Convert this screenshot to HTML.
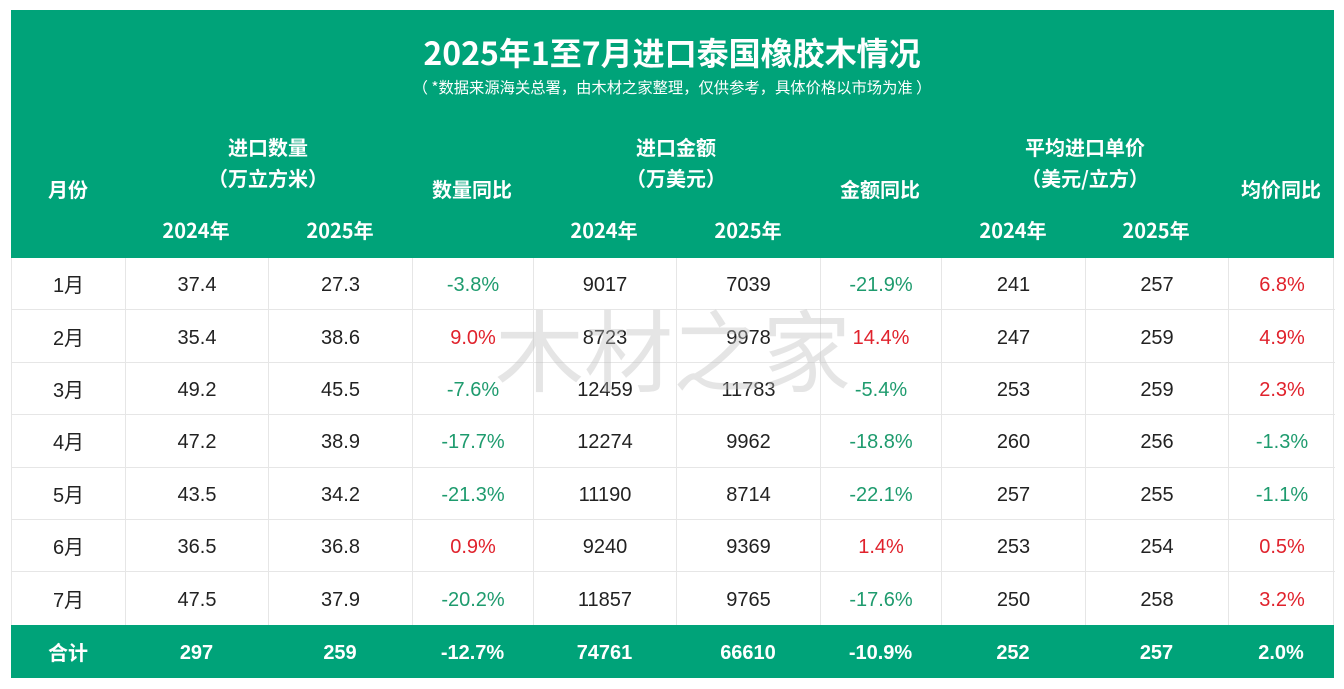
<!DOCTYPE html>
<html><head><meta charset="utf-8">
<style>
*{margin:0;padding:0;box-sizing:border-box}
body{width:1344px;height:689px;background:#fff;position:relative;overflow:hidden;font-family:"Liberation Sans","Noto Sans CJK SC",sans-serif}
.g{position:absolute;left:11px;top:10px;width:1323px;height:248px;background:#00a379}
.t{position:absolute;color:#fff;white-space:nowrap;text-align:center}
.title{left:0;width:1344px;top:30px;font-size:32px;font-weight:bold;font-family:"Noto Sans CJK SC",sans-serif;line-height:44px}
.sub{left:0;width:1344px;top:77px;font-size:15.3px;line-height:20px;font-family:"Noto Sans CJK SC",sans-serif}
.h{font-size:20px;font-weight:bold;font-family:"Noto Sans CJK SC",sans-serif;line-height:28px;transform:translateX(-50%)}
.body{position:absolute;left:11px;top:258px;width:1323px;height:367px;border-left:1px solid #e6e6e6;border-right:1px solid #e6e6e6}
.row{position:absolute;left:0;width:1323px;height:52.4px;border-bottom:1.5px solid #e6e6e6}
.c{position:absolute;top:0;height:100%;display:flex;align-items:center;justify-content:center;font-size:20px;color:#222;border-right:1.5px solid #e6e6e6;font-family:"Liberation Sans","Noto Sans CJK SC",sans-serif;padding-top:4px}
.c.m{padding-top:0}
.c:last-child{border-right:none}
.gr{color:#1e9b6e}.rd{color:#e0222c}
.tot{position:absolute;left:11px;top:625px;width:1323px;height:53px;background:#00a379}
.tot .c{color:#fff;font-weight:bold;border:none}
.wm{position:absolute;left:495px;top:292px;font-size:89px;color:rgba(190,190,190,0.4);font-family:"Noto Sans CJK SC",sans-serif;line-height:110px;white-space:nowrap}
</style></head><body>
<div class="g"></div>
<div class="t title">2025年1至7月进口泰国橡胶木情况</div>
<div class="t sub">（ *数据来源海关总署，由木材之家整理，仅供参考，具体价格以市场为准 ）</div>

<div class="t h" style="left:68px;top:175px">月份</div>
<div class="t h" style="left:268px;top:133px">进口数量</div>
<div class="t h" style="left:268px;top:164px">（万立方米）</div>
<div class="t h" style="left:472px;top:175px">数量同比</div>
<div class="t h" style="left:676px;top:133px">进口金额</div>
<div class="t h" style="left:676px;top:164px">（万美元）</div>
<div class="t h" style="left:880px;top:175px">金额同比</div>
<div class="t h" style="left:1085px;top:133px">平均进口单价</div>
<div class="t h" style="left:1085px;top:164px">（美元/立方）</div>
<div class="t h" style="left:1281px;top:175px">均价同比</div>
<div class="t h" style="left:196px;top:216px">2024年</div>
<div class="t h" style="left:340px;top:216px">2025年</div>
<div class="t h" style="left:604px;top:216px">2024年</div>
<div class="t h" style="left:748px;top:216px">2025年</div>
<div class="t h" style="left:1013px;top:216px">2024年</div>
<div class="t h" style="left:1156px;top:216px">2025年</div>

<div class="body">
<div class="row" style="top:0px"><div class="c m" style="left:0;width:114px">1月</div><div class="c" style="left:114px;width:143px">37.4</div><div class="c" style="left:257px;width:144px">27.3</div><div class="c gr" style="left:401px;width:121px">-3.8%</div><div class="c" style="left:522px;width:143px">9017</div><div class="c" style="left:665px;width:144px">7039</div><div class="c gr" style="left:809px;width:121px">-21.9%</div><div class="c" style="left:930px;width:144px">241</div><div class="c" style="left:1074px;width:143px">257</div><div class="c rd" style="left:1217px;width:106px">6.8%</div></div>
<div class="row" style="top:52.4px"><div class="c m" style="left:0;width:114px">2月</div><div class="c" style="left:114px;width:143px">35.4</div><div class="c" style="left:257px;width:144px">38.6</div><div class="c rd" style="left:401px;width:121px">9.0%</div><div class="c" style="left:522px;width:143px">8723</div><div class="c" style="left:665px;width:144px">9978</div><div class="c rd" style="left:809px;width:121px">14.4%</div><div class="c" style="left:930px;width:144px">247</div><div class="c" style="left:1074px;width:143px">259</div><div class="c rd" style="left:1217px;width:106px">4.9%</div></div>
<div class="row" style="top:104.8px"><div class="c m" style="left:0;width:114px">3月</div><div class="c" style="left:114px;width:143px">49.2</div><div class="c" style="left:257px;width:144px">45.5</div><div class="c gr" style="left:401px;width:121px">-7.6%</div><div class="c" style="left:522px;width:143px">12459</div><div class="c" style="left:665px;width:144px">11783</div><div class="c gr" style="left:809px;width:121px">-5.4%</div><div class="c" style="left:930px;width:144px">253</div><div class="c" style="left:1074px;width:143px">259</div><div class="c rd" style="left:1217px;width:106px">2.3%</div></div>
<div class="row" style="top:157.2px"><div class="c m" style="left:0;width:114px">4月</div><div class="c" style="left:114px;width:143px">47.2</div><div class="c" style="left:257px;width:144px">38.9</div><div class="c gr" style="left:401px;width:121px">-17.7%</div><div class="c" style="left:522px;width:143px">12274</div><div class="c" style="left:665px;width:144px">9962</div><div class="c gr" style="left:809px;width:121px">-18.8%</div><div class="c" style="left:930px;width:144px">260</div><div class="c" style="left:1074px;width:143px">256</div><div class="c gr" style="left:1217px;width:106px">-1.3%</div></div>
<div class="row" style="top:209.6px"><div class="c m" style="left:0;width:114px">5月</div><div class="c" style="left:114px;width:143px">43.5</div><div class="c" style="left:257px;width:144px">34.2</div><div class="c gr" style="left:401px;width:121px">-21.3%</div><div class="c" style="left:522px;width:143px">11190</div><div class="c" style="left:665px;width:144px">8714</div><div class="c gr" style="left:809px;width:121px">-22.1%</div><div class="c" style="left:930px;width:144px">257</div><div class="c" style="left:1074px;width:143px">255</div><div class="c gr" style="left:1217px;width:106px">-1.1%</div></div>
<div class="row" style="top:262px"><div class="c m" style="left:0;width:114px">6月</div><div class="c" style="left:114px;width:143px">36.5</div><div class="c" style="left:257px;width:144px">36.8</div><div class="c rd" style="left:401px;width:121px">0.9%</div><div class="c" style="left:522px;width:143px">9240</div><div class="c" style="left:665px;width:144px">9369</div><div class="c rd" style="left:809px;width:121px">1.4%</div><div class="c" style="left:930px;width:144px">253</div><div class="c" style="left:1074px;width:143px">254</div><div class="c rd" style="left:1217px;width:106px">0.5%</div></div>
<div class="row" style="top:314.4px;border-bottom:none"><div class="c m" style="left:0;width:114px">7月</div><div class="c" style="left:114px;width:143px">47.5</div><div class="c" style="left:257px;width:144px">37.9</div><div class="c gr" style="left:401px;width:121px">-20.2%</div><div class="c" style="left:522px;width:143px">11857</div><div class="c" style="left:665px;width:144px">9765</div><div class="c gr" style="left:809px;width:121px">-17.6%</div><div class="c" style="left:930px;width:144px">250</div><div class="c" style="left:1074px;width:143px">258</div><div class="c rd" style="left:1217px;width:106px">3.2%</div></div>
</div>

<div class="wm">木材之家</div>

<div class="tot">
<div class="c m" style="left:0;width:114px;font-family:'Noto Sans CJK SC',sans-serif">合计</div><div class="c" style="left:114px;width:143px">297</div><div class="c" style="left:257px;width:144px">259</div><div class="c" style="left:401px;width:121px">-12.7%</div><div class="c" style="left:522px;width:143px">74761</div><div class="c" style="left:665px;width:144px">66610</div><div class="c" style="left:809px;width:121px">-10.9%</div><div class="c" style="left:930px;width:144px">252</div><div class="c" style="left:1074px;width:143px">257</div><div class="c" style="left:1217px;width:106px">2.0%</div>
</div>
</body></html>
